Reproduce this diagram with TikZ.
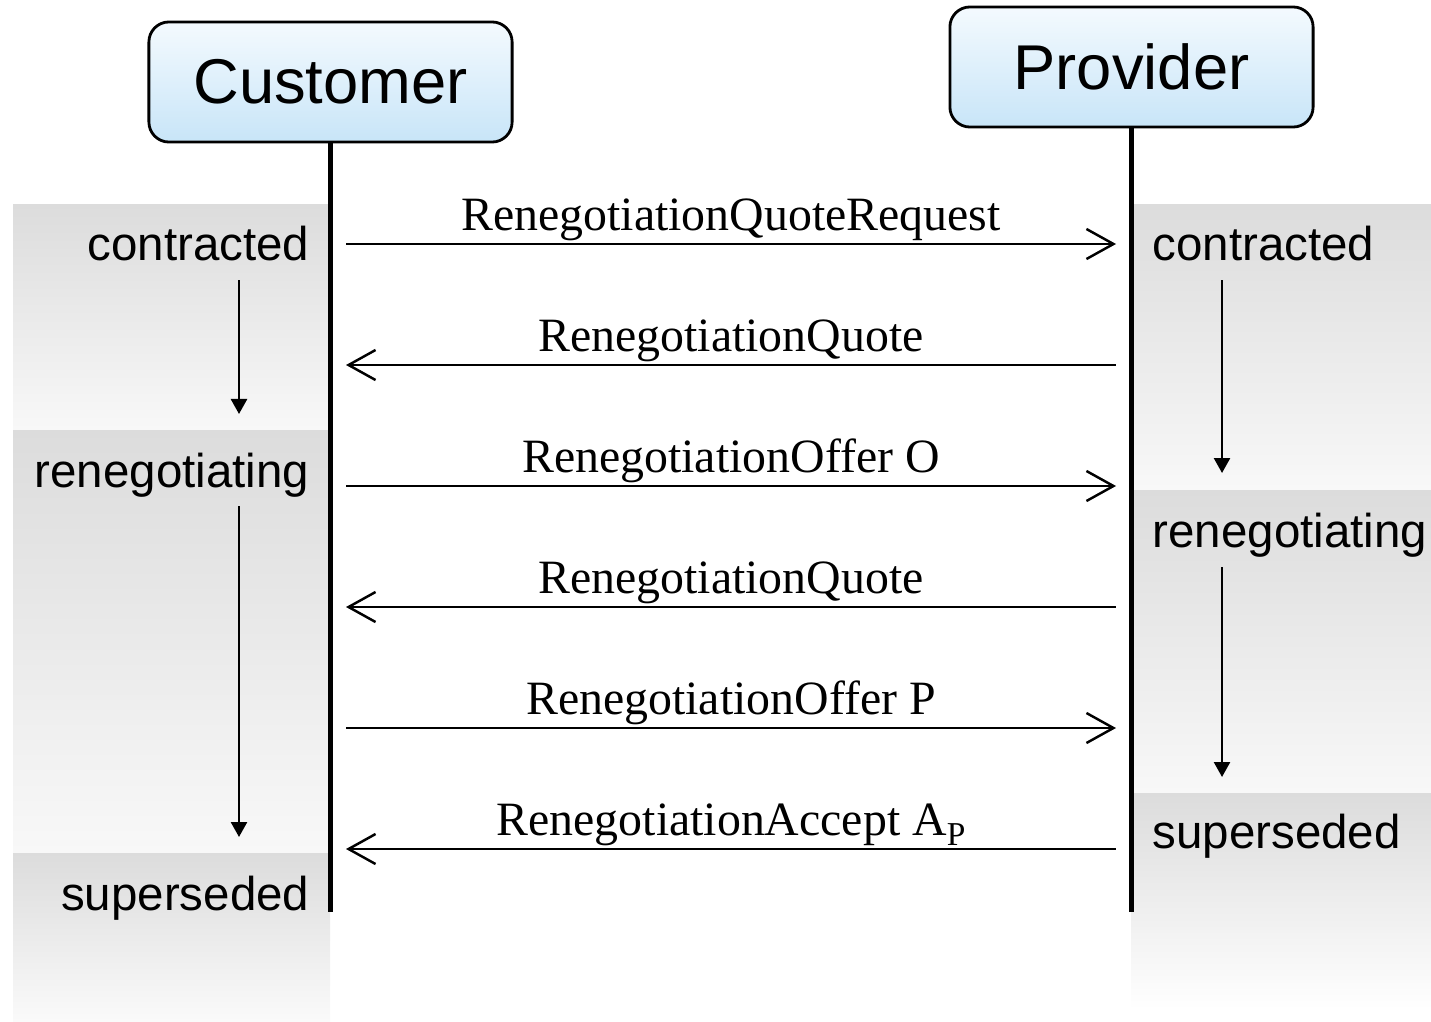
\documentclass[tikz,border=0pt]{standalone}
\usepackage{fontspec}
\setmainfont{Liberation Serif}
\setsansfont{Liberation Sans}
\usepackage{tikz}
\usetikzlibrary{arrows.meta}

\definecolor{boxtop}{HTML}{F4FAFE}
\definecolor{boxbot}{HTML}{C8E5F8}
\definecolor{bandtop}{HTML}{DCDCDC}
\definecolor{bandbot}{HTML}{F8F8F8}

\begin{document}
\begin{tikzpicture}[x=0.01cm, y=-0.01cm,
        actor/.style={draw, line width=0.8pt, rounded corners=0.2cm, minimum width=3.63cm, minimum height=1.2cm, top color=boxtop, bottom color=boxbot, font=\sffamily\fontsize{18}{22}\selectfont},
        statelbl/.style={inner sep=0pt, font=\sffamily\fontsize{13.5}{16}\selectfont},
        lifeline/.style={line width=1.4pt},
        msg/.style={line width=0.7pt},
        msglbl/.style={above, inner sep=0.5pt, font=\fontsize{13.6}{16}\selectfont},
        change/.style={line width=0.7pt, -{Triangle[length=0.15cm, width=0.16cm]}},
        >={Straight Barb[length=0.27cm, width=0.3cm]}]
        \useasboundingbox (0,0) rectangle (1431,1021);
        % State bands
        \foreach \xa/\xb/\ya/\yb/\bot in {13/330/204/430/bandbot, 13/330/430/853/bandbot, 13/330/853/1021/black!2,
                1131/1431/204/490/bandbot, 1131/1431/490/793/bandbot, 1131/1431/793/1010/white} {
            \shade[top color=bandtop, bottom color=\bot] (\xa,\ya) rectangle (\xb,\yb);
        }
        % Customer and Provider
        \node[actor] (cust) at (330.5,82) {Customer};
        \node[actor] (prov) at (1131.5,67) {Provider};
        \coordinate (custend) at (cust.south |- 0,912);
        \coordinate (provend) at (prov.south |- 0,912);
        \draw[lifeline] (cust.south) -- (custend);
        \draw[lifeline] (prov.south) -- (provend);
        % States
        \node[statelbl, anchor=base east] (lcon) at (310,260) {contracted};
        \node[statelbl, anchor=base east] (lren) at (310,487) {renegotiating};
        \node[statelbl, anchor=base east] (lsup) at (310,910) {superseded};
        \node[statelbl, anchor=base west] (rcon) at (1152,260) {contracted};
        \node[statelbl, anchor=base west] (rren) at (1152,547) {renegotiating};
        \node[statelbl, anchor=base west] (rsup) at (1152,848) {superseded};
        \foreach \n/\x/\ya/\yb in {l1/239/280/414, l2/239/506/837, r1/1222/280/473, r2/1222/567/777} {
            \coordinate (\n-from) at (\x,\ya);
            \coordinate (\n-to) at (\x,\yb);
            \draw[change] (\n-from) -- (\n-to);
        }
        % Messages
        \foreach \i/\y/\tip/\lbl in {1/244/->/{RenegotiationQuoteRequest}, 2/365/<-/{RenegotiationQuote},
                3/486/->/{RenegotiationOffer O}, 4/607/<-/{RenegotiationQuote},
                5/728/->/{RenegotiationOffer P}, 6/849/<-/{RenegotiationAccept A\raisebox{-0.45ex}{\fontsize{9.5}{10}\selectfont P}}} {
            \coordinate (ml\i) at (346,\y);
            \coordinate (mr\i) at (1116,\y);
            \draw[msg, \tip] (ml\i) -- node[msglbl] {\lbl} (mr\i);
        }
    \end{tikzpicture}
\end{document}
